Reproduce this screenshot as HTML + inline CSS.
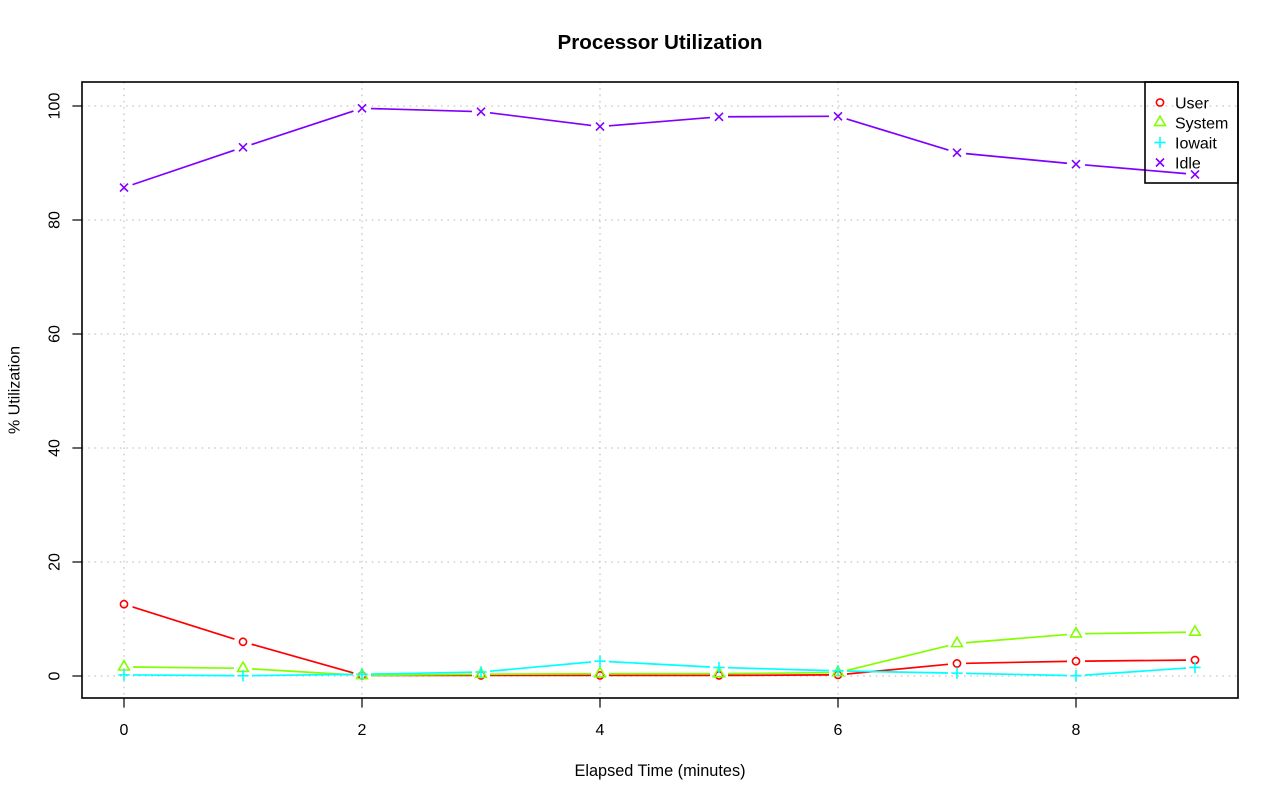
<!DOCTYPE html>
<html>
<head>
<meta charset="utf-8">
<style>
html,body{margin:0;padding:0;background:#fff;}
svg{display:block;}
text{font-family:"Liberation Sans",Arial,sans-serif;fill:#000;}
</style>
</head>
<body>
<svg id="chart" width="1280" height="801" viewBox="0 0 1280 801" xmlns="http://www.w3.org/2000/svg">
<rect x="0" y="0" width="1280" height="801" fill="#fff"/>
<g id="grid" stroke="#C4C4C4" stroke-width="1.3" stroke-dasharray="1.5,4.8" fill="none">
</g>
<g id="series"></g>
<rect x="82" y="82" width="1156" height="616" fill="none" stroke="#000" stroke-width="1.6"/>
<g id="axes" stroke="#000" stroke-width="1.2" fill="none"></g>
<g id="labels" font-size="16"></g>
<text x="660" y="49" font-size="20" font-weight="bold" text-anchor="middle" textLength="205" lengthAdjust="spacingAndGlyphs">Processor Utilization</text>
<text x="660" y="776" font-size="16.3" text-anchor="middle">Elapsed Time (minutes)</text>
<text transform="translate(19.5,390) rotate(-90)" font-size="16" text-anchor="middle">% Utilization</text>
<g id="legend">
<rect x="1145" y="82" width="93" height="101" fill="none" stroke="#000" stroke-width="1.6"/>
</g>
</svg>
<script>
(function(){
var NS="http://www.w3.org/2000/svg";
function el(tag,attrs,parent,txt){var e=document.createElementNS(NS,tag);for(var k in attrs)e.setAttribute(k,attrs[k]);if(txt!==undefined)e.textContent=txt;parent.appendChild(e);return e;}
function X(v){return 124+v*119;}
function Y(v){return 676-v*5.7;}
var grid=document.getElementById('grid');
[0,2,4,6,8].forEach(function(v){el('line',{x1:X(v),y1:82,x2:X(v),y2:698},grid);});
[0,20,40,60,80,100].forEach(function(v){el('line',{x1:82,y1:Y(v),x2:1238,y2:Y(v)},grid);});
var axes=document.getElementById('axes');
var labels=document.getElementById('labels');
[0,2,4,6,8].forEach(function(v){
  el('line',{x1:X(v),y1:698,x2:X(v),y2:707.6},axes);
  el('text',{x:X(v),y:735,'text-anchor':'middle'},labels,String(v));
});
[0,20,40,60,80,100].forEach(function(v){
  el('line',{x1:72.4,y1:Y(v),x2:82,y2:Y(v)},axes);
  el('text',{transform:'translate(59.3,'+Y(v)+') rotate(-90)','text-anchor':'middle'},labels,String(v));
});
var data=[
 {name:'User',col:'#FF0000',pch:1,v:[12.6,6.0,0.1,0.1,0.1,0.1,0.2,2.2,2.6,2.8]},
 {name:'System',col:'#80FF00',pch:2,v:[1.6,1.35,0.1,0.3,0.4,0.4,0.6,5.7,7.4,7.7]},
 {name:'Iowait',col:'#00FFFF',pch:3,v:[0.2,0.05,0.3,0.7,2.6,1.5,0.9,0.5,0.05,1.5]},
 {name:'Idle',col:'#8000FF',pch:4,v:[85.7,92.75,99.6,99.0,96.4,98.1,98.2,91.8,89.8,88.0]}
];
var R=4;
function marker(pch,x,y,col,parent){
  var a={fill:'none',stroke:col,'stroke-width':1.6};
  if(pch===1){a.cx=x;a.cy=y;a.r=R-0.4;el('circle',a,parent);}
  else if(pch===2){var r=1.555*R,yc=0.7776*R,xc=1.3468*R;
    a.points=x+','+(y-r)+' '+(x+xc)+','+(y+yc)+' '+(x-xc)+','+(y+yc);el('polygon',a,parent);}
  else if(pch===3){var h=1.414*R;
    el('line',{x1:x-h,y1:y,x2:x+h,y2:y,stroke:col,'stroke-width':1.6},parent);
    el('line',{x1:x,y1:y-h,x2:x,y2:y+h,stroke:col,'stroke-width':1.6},parent);}
  else if(pch===4){var d=R;
    el('line',{x1:x-d,y1:y-d,x2:x+d,y2:y+d,stroke:col,'stroke-width':1.6},parent);
    el('line',{x1:x-d,y1:y+d,x2:x+d,y2:y-d,stroke:col,'stroke-width':1.6},parent);}
}
var series=document.getElementById('series');
var GAP=9;
data.forEach(function(s){
  var g=el('g',{},series);
  for(var i=0;i<s.v.length-1;i++){
    var x1=X(i),y1=Y(s.v[i]),x2=X(i+1),y2=Y(s.v[i+1]);
    var dx=x2-x1,dy=y2-y1,L=Math.sqrt(dx*dx+dy*dy);
    if(L>2*GAP){
      var ux=dx/L,uy=dy/L;
      el('line',{x1:x1+ux*GAP,y1:y1+uy*GAP,x2:x2-ux*GAP,y2:y2-uy*GAP,stroke:s.col,'stroke-width':1.7},g);
    }
  }
  for(var j=0;j<s.v.length;j++) marker(s.pch,X(j),Y(s.v[j]),s.col,g);
});
var leg=document.getElementById('legend');
data.forEach(function(s,k){
  var y=102.5+k*20;
  marker(s.pch,1160,y,s.col,leg);
  el('text',{x:1175,y:y+6,'font-size':16},leg,s.name);
});
})();
</script>
</body>
</html>
